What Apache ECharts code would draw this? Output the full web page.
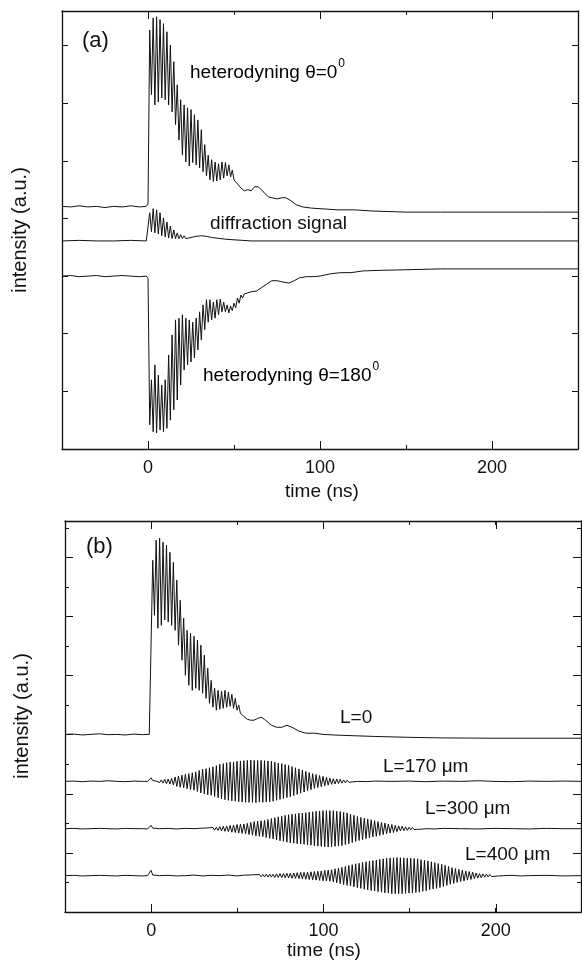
<!DOCTYPE html>
<html>
<head>
<meta charset="utf-8">
<script src="https://cdn.jsdelivr.net/npm/echarts@6/dist/echarts.min.js"></script>
<style>html,body{margin:0;padding:0;background:#fff;}#c{width:582px;height:960px;}</style>
</head>
<body>
<div id="c"></div>
<script>
// ---------- tick labels ----------
const xTickLabels = ['0', '100', '200'];
const yEvenTicks = ['0', '2', '4', '6', '8', '10', '12'];

// ---------- panel (a) ----------
// heterodyning theta = 0
const het0Pre = [[-50,4.21],[-45,4.20],[-40,4.22],[-35,4.20],[-30,4.21],[-25,4.19],[-20,4.21],[-15,4.20],[-10,4.22],[-5,4.20],[-1,4.21],[0,4.25]];
const het0OscStart = 1;
const het0Osc = [7.27,6.15,7.48,5.97,7.50,6.02,7.45,6.09,7.38,6.06,7.24,5.97,7.01,5.85,6.72,5.63,6.32,5.36,6.06,5.10,
  5.97,4.98,5.92,4.91,5.89,4.97,5.80,4.93,5.71,4.88,5.54,4.81,5.28,4.74,5.10,4.67,5.02,4.64,4.98,4.65,
  4.95,4.67,4.98,4.70,4.97,4.74,4.93,4.72,4.84,4.67,4.70,4.60,4.62,4.53,4.55,4.48];
const het0Post = [[58,4.50],[60,4.48],[62,4.55],[64,4.55],[66,4.50],[68,4.43],[70,4.375],[72,4.36],[75,4.34],[78,4.36],[80,4.36],[83,4.31],[86,4.24],[90,4.20],[95,4.18],[100,4.17],[110,4.15],[120,4.15],[130,4.13],[150,4.11],[170,4.11],[200,4.11],[230,4.11],[250,4.11]];

// diffraction signal
const diffPre = [[-50,3.61],[-40,3.62],[-30,3.61],[-20,3.61],[-10,3.62],[-1,3.61],[0,3.63]];
const diffOscStart = 1;
const diffOsc = [4.10,3.77,4.17,3.75,4.15,3.73,4.10,3.70,4.01,3.68,3.94,3.66,3.87,3.65,3.80,3.65,3.75,3.65,3.72,3.65,3.70,3.65,3.68];
const diffPost = [[25,3.67],[28,3.69],[31,3.70],[34,3.69],[37,3.67],[40,3.66],[45,3.64],[50,3.63],[55,3.62],[60,3.61],[80,3.61],[100,3.61],[150,3.61],[200,3.61],[250,3.61]];

// heterodyning theta = 180
const het180Pre = [[-50,3.00],[-45,3.01],[-40,2.99],[-35,3.00],[-30,3.01],[-25,2.99],[-20,3.00],[-15,3.01],[-10,3.00],[-5,2.99],[-1,3.00],[0,2.96]];
const het180OscStart = 1;
const het180Osc = [0.42,1.20,0.30,1.46,0.28,1.28,0.33,1.11,0.30,1.20,0.36,1.63,0.50,1.98,0.68,2.24,0.85,2.27,1.11,2.33,
  1.37,2.27,1.46,2.24,1.51,2.20,1.58,2.27,1.72,2.38,1.89,2.50,2.07,2.59,2.20,2.59,2.24,2.55,2.27,2.59,
  2.33,2.60,2.38,2.55,2.38,2.50,2.36,2.48,2.40,2.53,2.45,2.62,2.53,2.67,2.62];
const het180Post = [[56,2.69],[58,2.71],[60,2.73],[63,2.74],[66,2.80],[69,2.86],[72,2.92],[75,2.92],[78,2.90],[82,2.88],[85,2.92],[88,2.97],[92,2.99],[96,2.99],[100,3.00],[106,3.04],[112,3.06],[118,3.06],[125,3.09],[135,3.10],[150,3.11],[170,3.125],[200,3.125],[250,3.125]];

// ---------- panel (b) ----------
// L = 0
const l0Pre = [[-50,6.01],[-45,6.02],[-40,5.99],[-35,6.01],[-30,6.03],[-25,6.00],[-20,6.01],[-15,5.99],[-10,6.02],[-5,6.00],[-1,6.01],[0,6.05]];
const l0OscStart = 1;
const l0Osc = [11.90,10.04,12.58,9.60,12.65,9.70,12.51,9.88,12.41,9.81,12.17,9.70,11.83,9.53,11.23,9.03,10.55,8.52,9.94,8.01,
  9.53,7.67,9.43,7.50,9.33,7.57,9.20,7.50,9.03,7.40,8.69,7.23,8.25,7.06,7.84,6.93,7.57,6.83,7.50,6.86,
  7.47,6.89,7.50,6.93,7.44,6.96,7.37,6.89,7.23,6.83,7.00,6.72,6.76,6.62,6.59,6.52];
const l0Post = [[58,6.49],[60,6.49],[62,6.55],[64,6.59],[66,6.52],[68,6.42],[70,6.32],[73,6.25],[76,6.25],[79,6.32],[82,6.25],[86,6.12],[90,6.05],[95,6.05],[100,6.01],[110,5.98],[120,5.96],[130,5.94],[150,5.91],[170,5.89],[200,5.88],[250,5.88]];

// L = 170 um
const l170Pre = [[-50,4.42],[-45,4.43],[-40,4.41],[-35,4.43],[-30,4.42],[-25,4.44],[-20,4.42],[-15,4.41],[-10,4.43],[-5,4.42],[-2,4.42],[0,4.54],[1,4.45],[2,4.41],[3,4.43]];
const l170OscStart = 4;
const l170Osc = [4.45,4.38,4.47,4.36,4.49,4.34,4.50,4.33,4.52,4.30,4.57,4.25,4.60,4.22,4.63,4.20,4.66,4.17,4.68,4.14,
  4.71,4.12,4.74,4.08,4.79,4.03,4.83,4.00,4.85,3.97,4.88,3.95,4.91,3.91,4.95,3.86,5.00,3.83,5.02,3.80,
  5.05,3.78,5.07,3.76,5.08,3.75,5.10,3.73,5.11,3.72,5.12,3.71,5.13,3.71,5.14,3.71,5.13,3.70,5.13,3.72,
  5.13,3.71,5.12,3.72,5.11,3.73,5.10,3.75,5.07,3.78,5.04,3.81,5.02,3.84,4.99,3.87,4.96,3.90,4.92,3.94,
  4.88,3.98,4.84,4.02,4.80,4.06,4.76,4.10,4.72,4.14,4.68,4.18,4.65,4.21,4.62,4.24,4.59,4.27,4.56,4.29,
  4.53,4.32,4.51,4.33,4.50,4.35,4.49,4.36,4.47,4.37,4.46,4.39,4.45,4.40,4.44];
const l170Post = [[120,4.42],[125,4.41],[130,4.43],[140,4.42],[150,4.43],[160,4.41],[170,4.43],[180,4.42],[190,4.44],[200,4.42],[210,4.41],[220,4.43],[230,4.42],[240,4.43],[250,4.42]];

// L = 300 um
const l300Pre = [[-50,2.82],[-45,2.83],[-40,2.81],[-35,2.82],[-30,2.83],[-25,2.82],[-20,2.81],[-15,2.83],[-10,2.82],[-5,2.82],[-2,2.81],[0,2.93],[1,2.84],[2,2.81],[5,2.82],[10,2.83],[15,2.81],[20,2.83],[25,2.82],[28,2.83]];
const l300OscStart = 30;
const l300Osc = [2.84,2.80,2.84,2.79,2.85,2.79,2.86,2.77,2.87,2.76,2.89,2.74,2.90,2.73,2.91,2.72,2.93,2.70,2.94,2.69,
  2.96,2.67,2.97,2.66,2.98,2.65,3.00,2.62,3.03,2.60,3.06,2.57,3.07,2.56,3.09,2.55,3.10,2.52,3.13,2.49,
  3.16,2.47,3.19,2.44,3.22,2.41,3.24,2.39,3.27,2.36,3.29,2.34,3.31,2.33,3.32,2.31,3.34,2.30,3.35,2.29,
  3.36,2.27,3.38,2.26,3.39,2.24,3.41,2.23,3.42,2.22,3.43,2.21,3.43,2.20,3.43,2.21,3.43,2.22,3.41,2.23,
  3.40,2.25,3.37,2.28,3.35,2.31,3.31,2.35,3.27,2.39,3.23,2.42,3.20,2.45,3.17,2.48,3.15,2.51,3.12,2.54,
  3.09,2.56,3.06,2.59,3.03,2.62,3.01,2.65,2.98,2.67,2.96,2.69,2.93,2.72,2.91,2.74,2.90,2.75,2.88,2.76,
  2.87,2.78,2.86,2.79,2.85,2.80,2.84,2.80,2.83];
const l300Post = [[160,2.82],[165,2.81],[170,2.83],[180,2.82],[190,2.81],[200,2.83],[210,2.82],[220,2.81],[230,2.83],[240,2.82],[250,2.82]];

// L = 400 um
const l400Pre = [[-50,1.23],[-45,1.24],[-40,1.22],[-35,1.23],[-30,1.24],[-25,1.23],[-20,1.22],[-15,1.24],[-10,1.23],[-5,1.22],[-2,1.23],[-1,1.24],[0,1.41],[1,1.25],[2,1.22],[5,1.23],[10,1.24],[15,1.22],[20,1.23],[25,1.25],[30,1.22],[35,1.24],[40,1.23],[45,1.25],[50,1.22],[53,1.24]];
const l400OscStart = 55;
const l400Osc = [1.25,1.21,1.25,1.21,1.26,1.20,1.26,1.20,1.27,1.19,1.27,1.19,1.28,1.18,1.28,1.18,1.28,1.17,1.29,1.17,
  1.30,1.16,1.30,1.16,1.31,1.15,1.31,1.14,1.32,1.14,1.33,1.13,1.34,1.12,1.34,1.11,1.35,1.10,1.36,1.09,
  1.37,1.08,1.38,1.07,1.39,1.06,1.41,1.05,1.42,1.04,1.43,1.02,1.46,0.99,1.49,0.96,1.51,0.93,1.54,0.90,
  1.57,0.88,1.60,0.85,1.63,0.82,1.65,0.80,1.68,0.77,1.70,0.75,1.72,0.73,1.74,0.71,1.76,0.69,1.78,0.67,
  1.80,0.65,1.82,0.64,1.83,0.62,1.84,0.62,1.84,0.62,1.84,0.62,1.83,0.63,1.82,0.64,1.82,0.65,1.81,0.66,
  1.80,0.67,1.77,0.70,1.75,0.72,1.73,0.75,1.70,0.78,1.67,0.80,1.64,0.83,1.61,0.86,1.58,0.90,1.54,0.94,
  1.50,0.97,1.47,1.00,1.44,1.03,1.42,1.05,1.39,1.08,1.37,1.10,1.35,1.13,1.32,1.15,1.30,1.16,1.29,1.18,
  1.28,1.19,1.27,1.20,1.26,1.21,1.25,1.22];
const l400Post = [[205,1.23],[210,1.24],[215,1.22],[220,1.23],[230,1.24],[240,1.22],[250,1.23]];

// ---------- build series data (1 ns sample step in oscillating parts) ----------
function build(pre, start, osc, post) {
  return pre.concat(osc.map((v, i) => [start + i, v]), post);
}

const FONT = 'Liberation Sans, Arial, Helvetica, sans-serif';
const INK = '#111';

function valueX(gridIndex, position, opts) {
  return Object.assign({
    type: 'value', gridIndex, position, min: -50, max: 250, interval: 50,
    axisLine: {show: true, onZero: false, lineStyle: {color: INK, width: 1.3}},
    axisTick: {show: true, inside: true, length: 4, lineStyle: {color: INK, width: 1}},
    axisLabel: {show: false}, splitLine: {show: false}
  }, opts || {});
}
function valueY(gridIndex, position, max, tickLen) {
  return {
    type: 'value', gridIndex, position, min: 0, max, interval: 1,
    axisLine: {show: true, onZero: false, lineStyle: {color: INK, width: 1.3}},
    axisTick: {show: true, inside: true, length: tickLen, lineStyle: {color: INK, width: 1}},
    axisLabel: {show: false}, splitLine: {show: false}
  };
}
function catX(gridIndex, position, showLabel) {
  return {
    type: 'category', gridIndex, position, data: xTickLabels, boundaryGap: false,
    axisLine: {show: false},
    axisTick: {show: true, inside: true, length: 8, interval: 0, lineStyle: {color: INK, width: 1}},
    axisLabel: {show: showLabel, interval: 0, margin: 10, color: INK, fontSize: 18, fontFamily: FONT},
    splitLine: {show: false}
  };
}
function catY(gridIndex, position) {
  return {
    type: 'category', gridIndex, position, data: yEvenTicks, boundaryGap: false,
    axisLine: {show: false},
    axisTick: {show: true, inside: true, length: 8, interval: 0, lineStyle: {color: INK, width: 1}},
    axisLabel: {show: false}, splitLine: {show: false}
  };
}
const hidden = (type, gridIndex) => ({type: 'value', gridIndex, show: false, min: 0, max: 1});

const lineSeries = (data, xi, yi) => ({
  type: 'line', data, xAxisIndex: xi, yAxisIndex: yi, showSymbol: false, symbol: 'none',
  lineStyle: {color: INK, width: 1}, silent: true, animation: false, z: 3
});

const txt = (x, y, text, size, align, rot) => ({
  type: 'text', x, y, silent: true, rotation: rot || 0,
  style: {text, fill: INK, font: (size || 19) + 'px ' + FONT, textVerticalAlign: 'middle', textAlign: align || 'left'}
});

const supText = (x, y, main, sup) => ({
  type: 'text', x, y, silent: true,
  style: {
    text: '{a|' + main + '}{b|' + sup + '}', textVerticalAlign: 'middle', textAlign: 'left',
    rich: {
      a: {fontSize: 19, fontFamily: FONT, color: INK, lineHeight: 24, verticalAlign: 'bottom'},
      b: {fontSize: 12, fontFamily: FONT, color: INK, lineHeight: 24, verticalAlign: 'top', padding: [0, 0, 0, 1]}
    }
  }
});

const chart = echarts.init(document.getElementById('c'), null, {renderer: 'canvas'});
chart.setOption({
  backgroundColor: '#fff',
  animation: false,
  grid: [
    {left: 62, top: 11, width: 516, height: 438, containLabel: false, outerBoundsMode: 'none'},
    {left: 148, top: 11, width: 344, height: 438, containLabel: false, outerBoundsMode: 'none'},
    {left: 65, top: 521, width: 516, height: 391, containLabel: false, outerBoundsMode: 'none'},
    {left: 151.15, top: 521, width: 344.6, height: 391, containLabel: false, outerBoundsMode: 'none'},
    {left: 65, top: 557.4, width: 516, height: 354.6, containLabel: false, outerBoundsMode: 'none'}
  ],
  xAxis: [
    valueX(0, 'bottom'), valueX(0, 'top'),
    catX(1, 'bottom', true), catX(1, 'top', false),
    valueX(2, 'bottom'), valueX(2, 'top'),
    catX(3, 'bottom', true), catX(3, 'top', false),
    hidden('value', 4)
  ],
  yAxis: [
    valueY(0, 'left', 7.6, 6), valueY(0, 'right', 7.6, 6),
    hidden('value', 1),
    valueY(2, 'left', 13.23, 4), valueY(2, 'right', 13.23, 4),
    hidden('value', 3),
    catY(4, 'left'), catY(4, 'right')
  ],
  series: [
    lineSeries(build(het0Pre, het0OscStart, het0Osc, het0Post), 0, 0),
    lineSeries(build(diffPre, diffOscStart, diffOsc, diffPost), 0, 0),
    lineSeries(build(het180Pre, het180OscStart, het180Osc, het180Post), 0, 0),
    lineSeries(build(l0Pre, l0OscStart, l0Osc, l0Post), 4, 3),
    lineSeries(build(l170Pre, l170OscStart, l170Osc, l170Post), 4, 3),
    lineSeries(build(l300Pre, l300OscStart, l300Osc, l300Post), 4, 3),
    lineSeries(build(l400Pre, l400OscStart, l400Osc, l400Post), 4, 3)
  ],
  graphic: [
    txt(82, 41, '(a)', 22),
    supText(190, 70, 'heterodyning θ=0', '0'),
    txt(210, 224, 'diffraction signal', 19),
    supText(203, 373, 'heterodyning θ=180', '0'),
    txt(322, 492, 'time (ns)', 19, 'center'),
    txt(20, 230, 'intensity (a.u.)', 20, 'center', Math.PI / 2),
    txt(86, 547, '(b)', 22),
    txt(340, 718, 'L=0', 19),
    txt(383, 767, 'L=170 μm', 19),
    txt(425, 809, 'L=300 μm', 19),
    txt(465, 855, 'L=400 μm', 19),
    txt(324, 951, 'time (ns)', 19, 'center'),
    txt(22, 716, 'intensity (a.u.)', 20, 'center', Math.PI / 2)
  ]
});
</script>
</body>
</html>
